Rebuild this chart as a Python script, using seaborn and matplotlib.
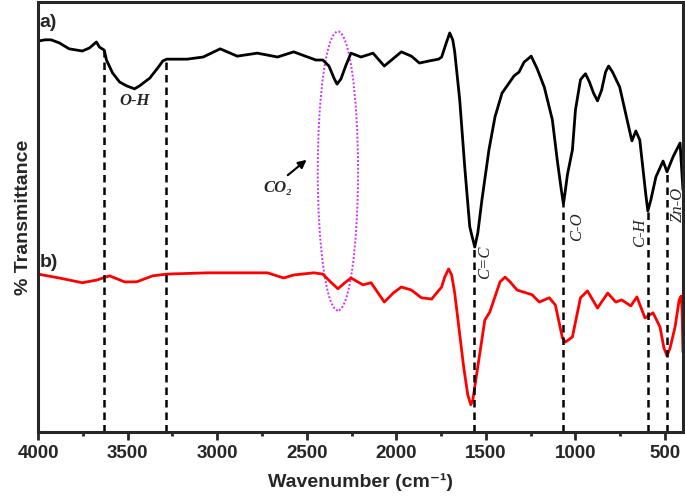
import numpy as np
import pandas as pd
import seaborn as sns
import matplotlib.pyplot as plt
from matplotlib.patches import Ellipse

# spectrum a) (black)
wn_a = [4000, 3961, 3927, 3882, 3826, 3753, 3713, 3674, 3657, 3630, 3618, 3584,
        3545, 3506, 3461, 3433, 3376, 3331, 3303, 3281, 3169, 3078, 2983, 2888,
        2776, 2663, 2573, 2449, 2410, 2376, 2348, 2331, 2309, 2281, 2253, 2197,
        2130, 2067, 1972, 1916, 1871, 1815, 1764, 1747, 1725, 1702, 1685, 1674,
        1646, 1618, 1590, 1579, 1562, 1545, 1522, 1483, 1449, 1410, 1343, 1315,
        1287, 1247, 1213, 1174, 1129, 1101, 1079, 1067, 1056, 1045, 1017, 1000,
        972, 955, 944, 922, 899, 877, 854, 832, 815, 793, 753, 708, 685, 663,
        641, 607, 596, 579, 551, 511, 489, 455, 416, 400]
t_a = [90.9, 91.2, 91.2, 90.5, 89.1, 88.6, 89.3, 90.7, 89.5, 88.8, 86.5, 83.5,
       81.4, 80.5, 79.8, 80.5, 82.3, 84.7, 86.3, 86.7, 86.7, 87.2, 89.1, 87.4,
       88.1, 87.2, 88.4, 86.5, 86.5, 85.1, 82.3, 80.9, 82.1, 85.3, 88.1, 87.2,
       88.1, 85.1, 88.4, 87.4, 85.8, 86.3, 86.7, 87.2, 90.0, 92.8, 91.2, 88.4,
       77.2, 61.6, 47.7, 45.8, 43.0, 46.3, 54.0, 65.6, 73.3, 78.8, 82.8, 83.7,
       86.0, 87.4, 84.4, 80.2, 72.6, 63.0, 56.3, 53.0, 56.3, 59.8, 65.6, 74.9,
       81.9, 82.8, 83.3, 81.4, 78.8, 77.0, 79.5, 83.7, 85.1, 83.7, 80.2, 71.9,
       67.7, 70.0, 67.9, 55.1, 51.4, 54.0, 59.3, 63.0, 60.5, 64.0, 67.2, 56.3]

# spectrum b) (red)
wn_b = [4000, 3882, 3753, 3674, 3601, 3517, 3450, 3360, 3281, 3056, 2719, 2629,
        2573, 2460, 2410, 2370, 2326, 2290, 2253, 2186, 2141, 2067, 2017, 1972,
        1916, 1860, 1803, 1747, 1730, 1708, 1691, 1674, 1624, 1601, 1584, 1573,
        1562, 1506, 1478, 1421, 1393, 1365, 1326, 1242, 1202, 1146, 1112, 1073,
        1056, 1039, 1017, 972, 933, 877, 820, 775, 742, 691, 657, 612, 567, 528,
        506, 489, 472, 444, 421, 410, 405, 400]
t_b = [36.7, 35.8, 34.7, 35.3, 36.3, 34.9, 34.9, 36.3, 36.7, 37.0, 37.0, 35.8,
       36.5, 37.0, 36.7, 35.0, 33.3, 34.6, 35.8, 34.2, 34.7, 30.2, 32.3, 33.7,
       33.0, 31.2, 30.9, 33.7, 36.0, 37.9, 36.5, 32.3, 15.1, 8.6, 6.3, 7.4,
       10.5, 26.0, 27.9, 34.9, 36.0, 34.9, 33.0, 31.9, 30.2, 31.2, 29.5, 21.9,
       20.9, 21.4, 22.1, 31.2, 32.8, 28.8, 32.3, 30.2, 30.7, 29.3, 31.4, 26.5,
       27.7, 24.4, 19.5, 17.7, 19.5, 24.4, 30.7, 31.6, 28.4, 18.6]

# band markers
band_wn = [3630, 3287, 1567, 1067, 596, 489]
band_top = [88.8, 86.7, 43.0, 53.0, 51.4, 60.5]
band_labels = ["C=C", "C-O", "C-H", "Zn-O"]
band_label_pos = [(1506, 39.5), (989, 47.7), (640, 46.3), (427, 52.8)]

sns.set_style("ticks")
plt.rcParams['font.family'] = ['Liberation Sans', 'DejaVu Sans']

fig, ax = plt.subplots(figsize=(6.85, 4.97), dpi=100)
fig.subplots_adjust(left=0.0555, right=0.997, bottom=0.131, top=0.996)

df_a = pd.DataFrame({"wn": wn_a, "t": t_a})
df_b = pd.DataFrame({"wn": wn_b, "t": t_b})
sns.lineplot(data=df_a, x="wn", y="t", color="black", lw=2, ax=ax)
sns.lineplot(data=df_b, x="wn", y="t", color="#ff0000", lw=2, ax=ax)

ax.vlines(band_wn, 0, band_top, colors="black", linestyles=(0, (3, 2)), lw=1.8)

serif = ['Liberation Serif', 'DejaVu Serif']
ax.text(3990, 95.3, "a)", fontsize=14, fontweight="bold", ha="left", va="center")
ax.text(3990, 39.3, "b)", fontsize=14, fontweight="bold", ha="left", va="center")
ax.text(3461, 77.0, "O-H", family=serif, style="italic", fontweight="bold",
        fontsize=12, ha="center", va="center")
for lab, (x, y) in zip(band_labels, band_label_pos):
    ax.text(x, y, lab, family=serif, style="italic", fontsize=12,
            rotation=90, ha="center", va="center")

ax.text(2663, 56.7, "CO₂", family=serif, style="italic", fontweight="bold",
        fontsize=12, ha="center", va="center")
ax.annotate("", xy=(2489, 63.7), xytext=(2618, 59.3),
            arrowprops=dict(arrowstyle="-|>", color="black", lw=1.5,
                            mutation_scale=12))
ax.add_patch(Ellipse((2326, 60.7), width=225, height=64.9, fill=False,
                     edgecolor="#cc33ff", linestyle=(0, (1, 1)), lw=1.4))

ax.set_xlim(4000, 400)
ax.set_ylim(0, 100)
ax.set_xticks([4000, 3500, 3000, 2500, 2000, 1500, 1000, 500])
ax.set_xticks(np.arange(3750, 400, -500), minor=True)
ax.set_yticks([])
ax.tick_params(axis="x", which="major", length=6, width=2, labelsize=13.5)
ax.tick_params(axis="x", which="minor", length=3, width=2)
for lbl in ax.get_xticklabels():
    lbl.set_fontweight("bold")
for sp in ax.spines.values():
    sp.set_linewidth(2.2)

ax.set_xlabel("Wavenumber (cm⁻¹)", fontsize=14, fontweight="bold", labelpad=8)
ax.set_ylabel("% Transmittance", fontsize=14, fontweight="bold", labelpad=4)

fig.savefig("out.png", dpi=100)
